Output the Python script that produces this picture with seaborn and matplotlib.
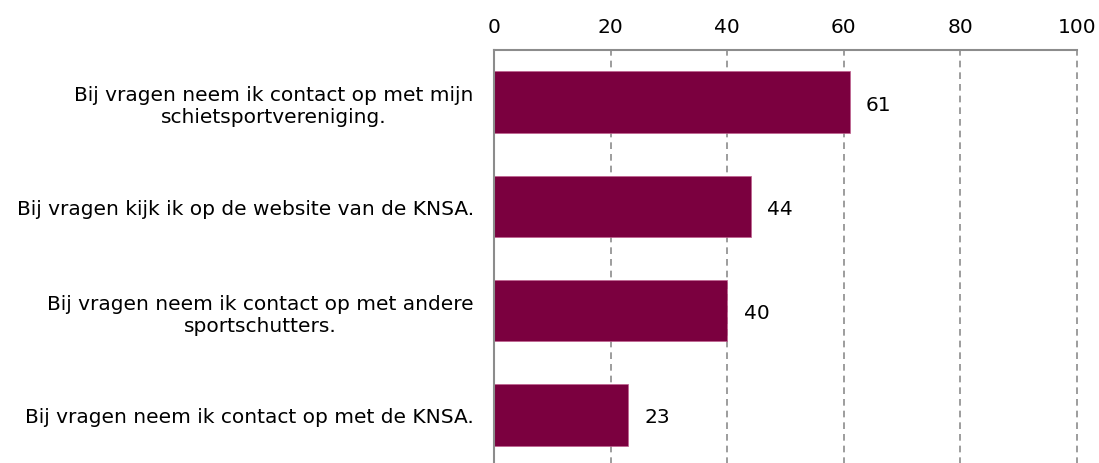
import numpy as np
import pandas as pd
import seaborn as sns
import matplotlib.pyplot as plt

categories = [
    "Bij vragen neem ik contact op met mijn\nschietsportvereniging.",
    "Bij vragen kijk ik op de website van de KNSA.",
    "Bij vragen neem ik contact op met andere\nsportschutters.",
    "Bij vragen neem ik contact op met de KNSA.",
]
values = [61, 44, 40, 23]
xticks = [0, 20, 40, 60, 80, 100]

df = pd.DataFrame({"label": categories, "value": values})

sns.set_style("white")
plt.rcParams['font.family'] = ['DejaVu Sans']

fig = plt.figure(figsize=(10.99, 4.64), dpi=100)
ax = fig.add_axes([494 / 1099, -4 / 464, (1077 - 494) / 1099, (464 - 51 + 4) / 464])

sns.barplot(data=df, x="value", y="label", color="#7B003F", saturation=1,
            width=0.59, ax=ax, edgecolor="#C0608F", linewidth=0.5)

for i, v in enumerate(values):
    ax.text(v + 2.8, i + 0.02, str(v), va="center", ha="left", fontsize=14.5, color="black")

ax.set_xlim(0, 100)
ax.set_ylim(3.5, -0.5)
ax.set_xticks(xticks)
ax.xaxis.tick_top()
ax.tick_params(axis="x", top=True, length=0, labelsize=14.5, pad=10, labelcolor="black")
ax.tick_params(axis="y", left=False, length=0, labelsize=14.5, pad=14.5, labelcolor="black")
for lbl in ax.get_yticklabels():
    lbl.set_horizontalalignment("right")
    lbl.set_multialignment("center")
ax.set_xlabel("")
ax.set_ylabel("")

ax.grid(axis="x", linestyle=(0, (4, 3)), color="#8c8c8c", linewidth=1.2)
for line in ax.get_xgridlines():
    line.set_clip_on(False)
ax.set_axisbelow(True)
for side in ["right", "bottom"]:
    ax.spines[side].set_visible(False)
for side in ["top", "left"]:
    ax.spines[side].set_color("#8c8c8c")
    ax.spines[side].set_linewidth(1.5)

fig.savefig("out.png", dpi=100)
